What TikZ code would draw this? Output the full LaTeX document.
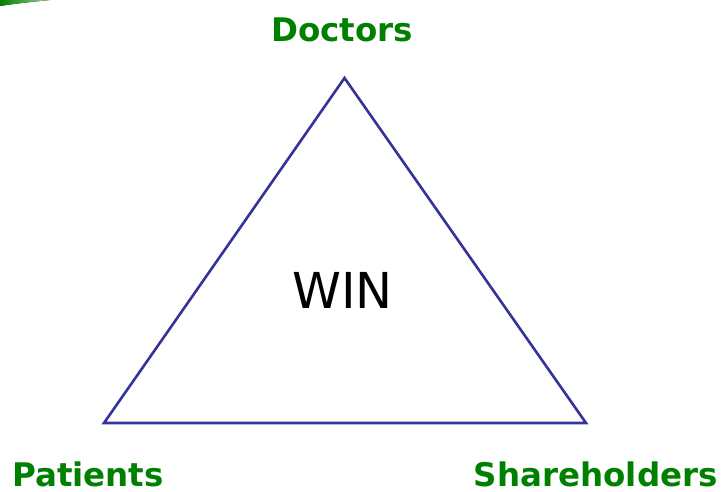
\documentclass[tikz,border=0pt]{standalone}
\usepackage{fontspec}
\setmainfont{DejaVu Sans}
\usepackage{tikz}
\usetikzlibrary{calc, positioning}
\definecolor{edgeblue}{RGB}{51,51,153}
\definecolor{labgreen}{RGB}{0,128,0}
\tikzstyle{side}=[draw=edgeblue, line width=2.6pt, line join=miter]
\tikzstyle{party}=[inner sep=0pt, anchor=base, text=labgreen, font=\fontsize{32.5}{36}\selectfont\bfseries]

\begin{document}
\begin{tikzpicture}[x=1pt, y=-1pt]
\useasboundingbox (0,0) rectangle (722,491);
% the green swoosh in the corner
\fill[left color=green!50!black, right color=green!60!black!40] (0,0) -- (50,0) .. controls (30,2) and (12,4) .. (0,6) -- cycle;
% the three corners
\coordinate (T) at (344.5,78);
\coordinate (L) at (104,423);
\coordinate (R) at (586,423);
% the sides
\draw[side] (T) -- (R) -- (L) -- cycle;
% the three parties
\node[party] (doc) at (342,41) {Doctors};
\node[party, anchor=base west] (pat) at (12,486) {Patients};
\node[party, anchor=base east] (sha) at (718,486) {Shareholders};
% the middle
\node[inner sep=0pt, anchor=base, font=\fontsize{49.5}{54}\selectfont] (win) at (342.5,308) {WIN};
\end{tikzpicture}
\end{document}
